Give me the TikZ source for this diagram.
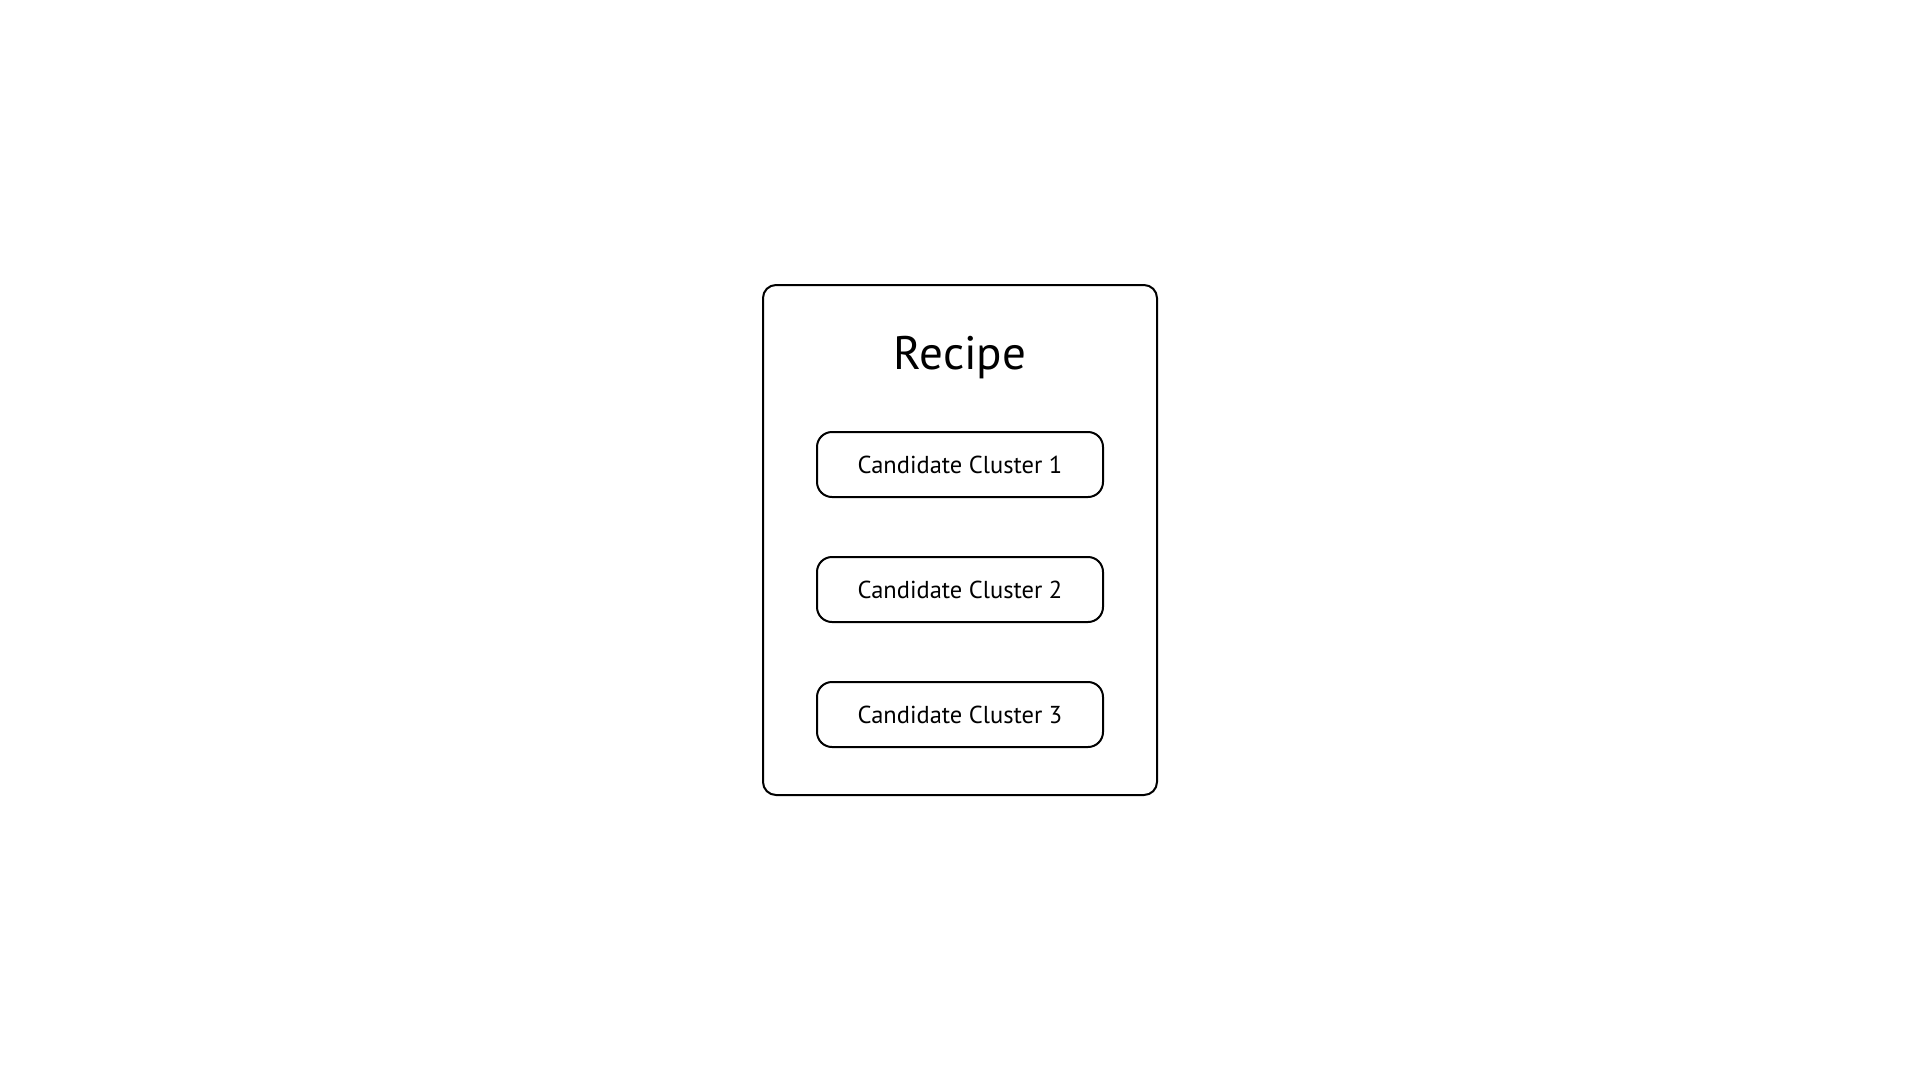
\documentclass[tikz,border=0pt]{standalone}
\usepackage{fontspec}
\setmainfont{PT Sans}
\begin{document}
\begin{tikzpicture}[x=1pt,y=-1pt,
  outerbox/.style={draw=black,line width=2pt,rounded corners=13pt},
  clusterbox/.style={draw=black,line width=2pt,rounded corners=15pt,minimum width=286pt,minimum height=65pt,inner sep=0pt,font=\fontsize{24.5pt}{30pt}\selectfont},
  titletext/.style={inner sep=0pt,font=\fontsize{47pt}{56pt}\selectfont}]
\useasboundingbox (0,0) rectangle (1920,1080);
\draw[outerbox] (763,285) rectangle (1157,795);
\node[titletext,anchor=base] (title) at (960,369) {Recipe};
\node[clusterbox] (c1) at (960,464.5) {\raisebox{-1pt}{Candidate Cluster 1}};
\node[clusterbox] (c2) at (960,589.5) {\raisebox{-1pt}{Candidate Cluster 2}};
\node[clusterbox] (c3) at (960,714.5) {\raisebox{-1pt}{Candidate Cluster 3}};
\end{tikzpicture}
\end{document}
